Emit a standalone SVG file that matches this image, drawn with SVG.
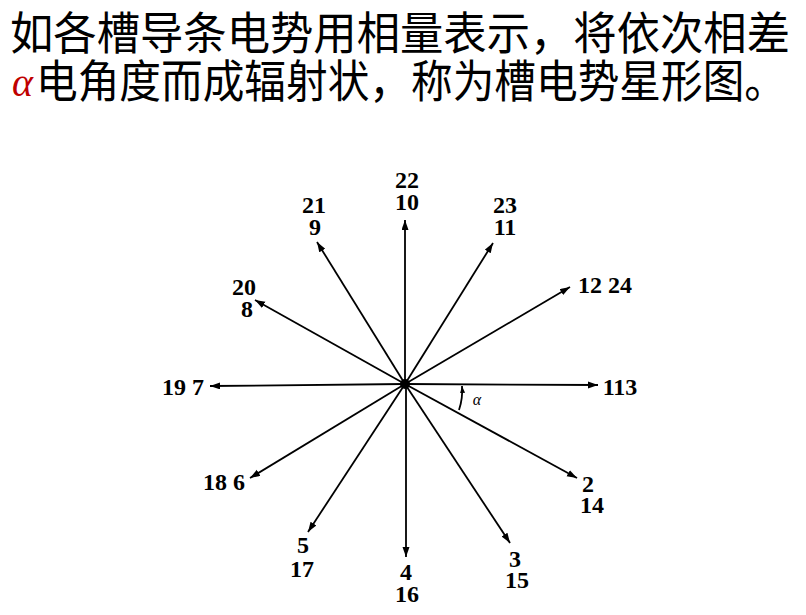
<svg xmlns="http://www.w3.org/2000/svg" width="806" height="615" viewBox="0 0 806 615">
  <defs>
    <marker id="arr" markerUnits="userSpaceOnUse" markerWidth="11" markerHeight="8" refX="10" refY="3.5" orient="auto">
      <path d="M0,0 L10,3.5 L0,7 z" fill="#000"/>
    </marker>
    <marker id="arrs" markerUnits="userSpaceOnUse" markerWidth="8" markerHeight="6" refX="7" refY="2.5" orient="auto">
      <path d="M0,0 L7,2.5 L0,5 z" fill="#000"/>
    </marker>
  </defs>
  <style>
    .hdr { font-family: "Noto Sans CJK SC", "Noto Sans", sans-serif; font-size: 45px; fill: #000; }
    .num { font-family: "Liberation Serif", serif; font-size: 24px; font-weight: bold; fill: #000; text-anchor: middle; }
    .vec { stroke: #000; stroke-width: 1.8; fill: none; marker-end: url(#arr); }
  </style>
  <rect width="806" height="615" fill="#fff"/>
  <g id="title">
    <text class="hdr" x="10" y="50" textLength="780" lengthAdjust="spacingAndGlyphs">如各槽导条电势用相量表示，将依次相差</text>
    <text x="12" y="96" font-family="'Liberation Serif', serif" font-style="italic" font-size="40" fill="#c00000">α</text>
    <text class="hdr" x="36" y="98" textLength="750" lengthAdjust="spacingAndGlyphs">电角度而成辐射状，称为槽电势星形图。</text>
  </g>
  <g id="connectors">
    <line class="vec" x1="405" y1="384" x2="598" y2="385"/>
    <line class="vec" x1="405" y1="384" x2="577" y2="478"/>
    <line class="vec" x1="405" y1="384" x2="510" y2="543"/>
    <line class="vec" x1="406" y1="384" x2="406" y2="557"/>
    <line class="vec" x1="405" y1="384" x2="308" y2="532"/>
    <line class="vec" x1="405" y1="384" x2="250" y2="478"/>
    <line class="vec" x1="405" y1="384" x2="210" y2="386"/>
    <line class="vec" x1="405" y1="384" x2="255" y2="300"/>
    <line class="vec" x1="405" y1="384" x2="317" y2="242"/>
    <line class="vec" x1="405" y1="384" x2="405" y2="220"/>
    <line class="vec" x1="405" y1="384" x2="493" y2="243"/>
    <line class="vec" x1="405" y1="384" x2="570" y2="287"/>
    <path d="M459,410 Q463,398 462,386" stroke="#000" stroke-width="1.8" fill="none" marker-end="url(#arrs)"/>
  </g>
  <circle id="center" cx="405" cy="384" r="5" fill="#000"/>
  <g id="alpha-label">
    <text x="477" y="405" font-family="'Liberation Serif', serif" font-style="italic" font-size="16" fill="#000" text-anchor="middle">α</text>
  </g>
  <g id="labels">
    <g id="n1"><text class="num" x="620" y="395">113</text></g>
    <g id="n12"><text class="num" x="605" y="293">12 24</text></g>
    <g id="n11"><text class="num" x="505" y="213">23</text><text class="num" x="505" y="235">11</text></g>
    <g id="n10"><text class="num" x="407" y="188">22</text><text class="num" x="407" y="210">10</text></g>
    <g id="n9"><text class="num" x="314" y="213">21</text><text class="num" x="315" y="235">9</text></g>
    <g id="n8"><text class="num" x="244" y="295">20</text><text class="num" x="247" y="317">8</text></g>
    <g id="n7"><text class="num" x="183" y="395">19 7</text></g>
    <g id="n6"><text class="num" x="224" y="490">18 6</text></g>
    <g id="n5"><text class="num" x="303" y="553">5</text><text class="num" x="302" y="577">17</text></g>
    <g id="n4"><text class="num" x="406" y="580">4</text><text class="num" x="407" y="602">16</text></g>
    <g id="n3"><text class="num" x="515" y="567">3</text><text class="num" x="517" y="588">15</text></g>
    <g id="n2"><text class="num" x="588" y="492">2</text><text class="num" x="592" y="513">14</text></g>
  </g>
</svg>
